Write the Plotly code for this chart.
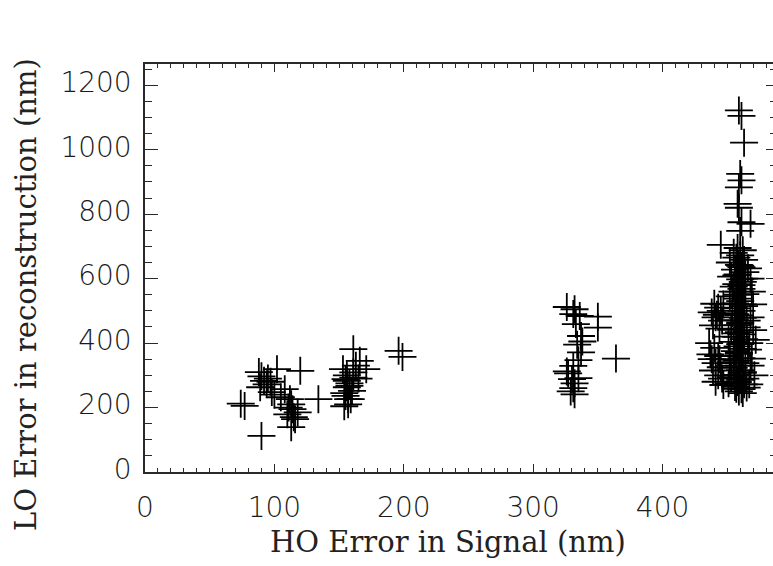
import plotly.graph_objects as go

# ---- data ----
# cluster around HO ~ 75-135 nm
ho_c1 = [74, 77, 90, 88, 90, 92, 94, 89, 95, 97, 102, 98, 108, 112, 113, 114, 110, 115, 116, 113, 120, 134, 100, 105, 118, 111]
lo_c1 = [212, 205, 112, 310, 297, 283, 272, 263, 290, 280, 319, 248, 257, 226, 210, 195, 179, 170, 164, 139, 314, 226, 240, 232, 185, 200]

# cluster around HO ~ 155-200 nm
ho_c2 = [153, 155, 156, 157, 154, 161, 161, 166, 171, 161, 156, 158, 160, 155, 157, 159, 154, 156, 158, 163, 165, 196, 199]
lo_c2 = [319, 288, 263, 226, 204, 381, 309, 345, 319, 293, 283, 267, 252, 236, 210, 226, 245, 300, 275, 330, 290, 376, 357]

# cluster around HO ~ 325-365 nm
ho_c3 = [326, 332, 331, 336, 350, 350, 333, 337, 338, 337, 335, 331, 364, 327, 330, 332, 331, 332, 335, 326, 329, 334]
lo_c3 = [512, 505, 490, 484, 482, 448, 459, 422, 405, 371, 347, 329, 352, 306, 288, 275, 260, 241, 291, 312, 250, 395]

# cluster around HO ~ 435-472 nm
ho_c4 = [459, 461, 463, 460, 461, 459, 458, 459, 461, 468, 460, 445,
         440, 443, 438, 445, 441, 446, 439, 444, 447, 442,
         436, 440, 443, 438, 441, 445, 439, 443, 446, 441, 447, 444, 437,
         468, 470, 467, 469, 471, 467, 470, 468, 466, 469, 472, 468,
         458, 462, 455, 460, 457, 463, 452, 459, 461, 456, 464, 458, 453, 460, 462, 457, 455, 461, 459, 464,
         452, 458, 460, 456, 463, 457, 461, 454, 459, 462, 456, 460, 458, 465, 453, 459, 461, 457, 463, 455,
         460, 458, 462, 456, 459, 452, 461, 457, 464, 459, 455, 460, 462, 457, 453, 460, 458, 463, 456, 461,
         459, 465, 451, 462, 457,
         460, 457, 461, 458, 462, 456, 460, 457, 461, 459, 455, 462, 458, 463, 454, 465, 451, 466, 452, 464]
lo_c4 = [1122, 1105, 1022, 925, 905, 883, 832, 820, 775, 770, 748, 705,
         522, 510, 495, 500, 480, 470, 455, 445, 520, 488,
         400, 385, 360, 350, 338, 325, 315, 300, 290, 280, 270, 350, 365,
         480, 440, 400, 352, 300, 272, 520, 600, 632, 560, 410, 330,
         695, 688, 680, 672, 665, 658, 650, 643, 636, 628, 620, 613, 606, 598, 590, 583, 575, 568, 560, 552,
         545, 538, 530, 523, 515, 508, 500, 493, 486, 478, 471, 464, 456, 449, 441, 434, 427, 419, 412, 404,
         397, 390, 382, 375, 367, 360, 353, 345, 338, 330, 323, 316, 308, 301, 294, 286, 279, 272, 264, 257,
         250, 262, 275, 245, 258,
         640, 610, 580, 550, 520, 490, 460, 430, 400, 370, 340, 310, 280, 600, 560, 470, 420, 380, 330, 290]

ho_error = ho_c1 + ho_c2 + ho_c3 + ho_c4
lo_error = lo_c1 + lo_c2 + lo_c3 + lo_c4

x_range = [0, 498.5]
y_range = [0, 1266]
x_title = "HO Error in Signal (nm)"
y_title = "LO Error in reconstruction (nm)"

AX = "#2a2a2a"
tick_font = dict(family="DejaVu Sans", size=28, color="#1a1a1a", weight=200)
title_font = dict(family="DejaVu Serif", size=29, color="#222222")

FIG_W = 790
PLOT_W = FIG_W - 145

fig = go.Figure()
fig.add_trace(go.Scatter(
    x=ho_error, y=lo_error, mode="markers",
    marker=dict(symbol="cross-thin", size=20, line=dict(color="black", width=1.8)),
    showlegend=False, hoverinfo="skip",
))
# right-hand tick marks (no axis line), sharing the y scale
fig.add_trace(go.Scatter(x=[], y=[], yaxis="y2", showlegend=False, hoverinfo="skip"))

fig.update_layout(
    width=FIG_W, height=566,
    margin=dict(l=145, r=0, t=64, b=94, autoexpand=False),
    paper_bgcolor="white", plot_bgcolor="white",
    xaxis=dict(
        range=x_range, showgrid=False, zeroline=False,
        showline=True, linecolor=AX, linewidth=1.5, mirror="ticks",
        ticks="inside", ticklen=8, tickwidth=1.3, tickcolor=AX,
        tick0=0, dtick=100, tickfont=tick_font, ticklabelstandoff=10,
        minor=dict(ticks="inside", dtick=10, ticklen=4, tickwidth=1.2, tickcolor=AX, showgrid=False),
    ),
    yaxis=dict(
        range=y_range, showgrid=False, zeroline=False,
        showline=True, linecolor=AX, linewidth=1.5, mirror=False,
        ticks="inside", ticklen=13, tickwidth=1.3, tickcolor=AX,
        tick0=0, dtick=200, tickfont=tick_font, ticklabelstandoff=6, ticklabelshift=-3,
        minor=dict(ticks="inside", dtick=50, ticklen=7, tickwidth=1.2, tickcolor=AX, showgrid=False),
    ),
    yaxis2=dict(
        range=y_range, overlaying="y", side="right", anchor="x",
        showgrid=False, zeroline=False, showline=False, linewidth=0, showticklabels=False,
        ticks="inside", ticklen=24, tickwidth=1.3, tickcolor=AX, tick0=0, dtick=200,
        minor=dict(ticks="inside", dtick=50, ticklen=20, tickwidth=1.2, tickcolor=AX, showgrid=False),
    ),
    annotations=[
        dict(text=x_title, xref="paper", yref="paper", x=(448 - 145) / PLOT_W, y=-0.172,
             xanchor="center", yanchor="middle", showarrow=False, font=title_font),
        dict(text=y_title, xref="paper", yref="paper", x=(26 - 145) / PLOT_W, y=0.434,
             xanchor="center", yanchor="middle", textangle=-90, showarrow=False, font=title_font),
    ],
)

fig.write_html(
    "out.html",
    config={"displayModeBar": False, "responsive": False},
    post_script=(
        "document.documentElement.style.overflow='hidden';"
        "document.body.style.margin='0px';"
        "document.body.style.overflow='hidden';"
    ),
)
